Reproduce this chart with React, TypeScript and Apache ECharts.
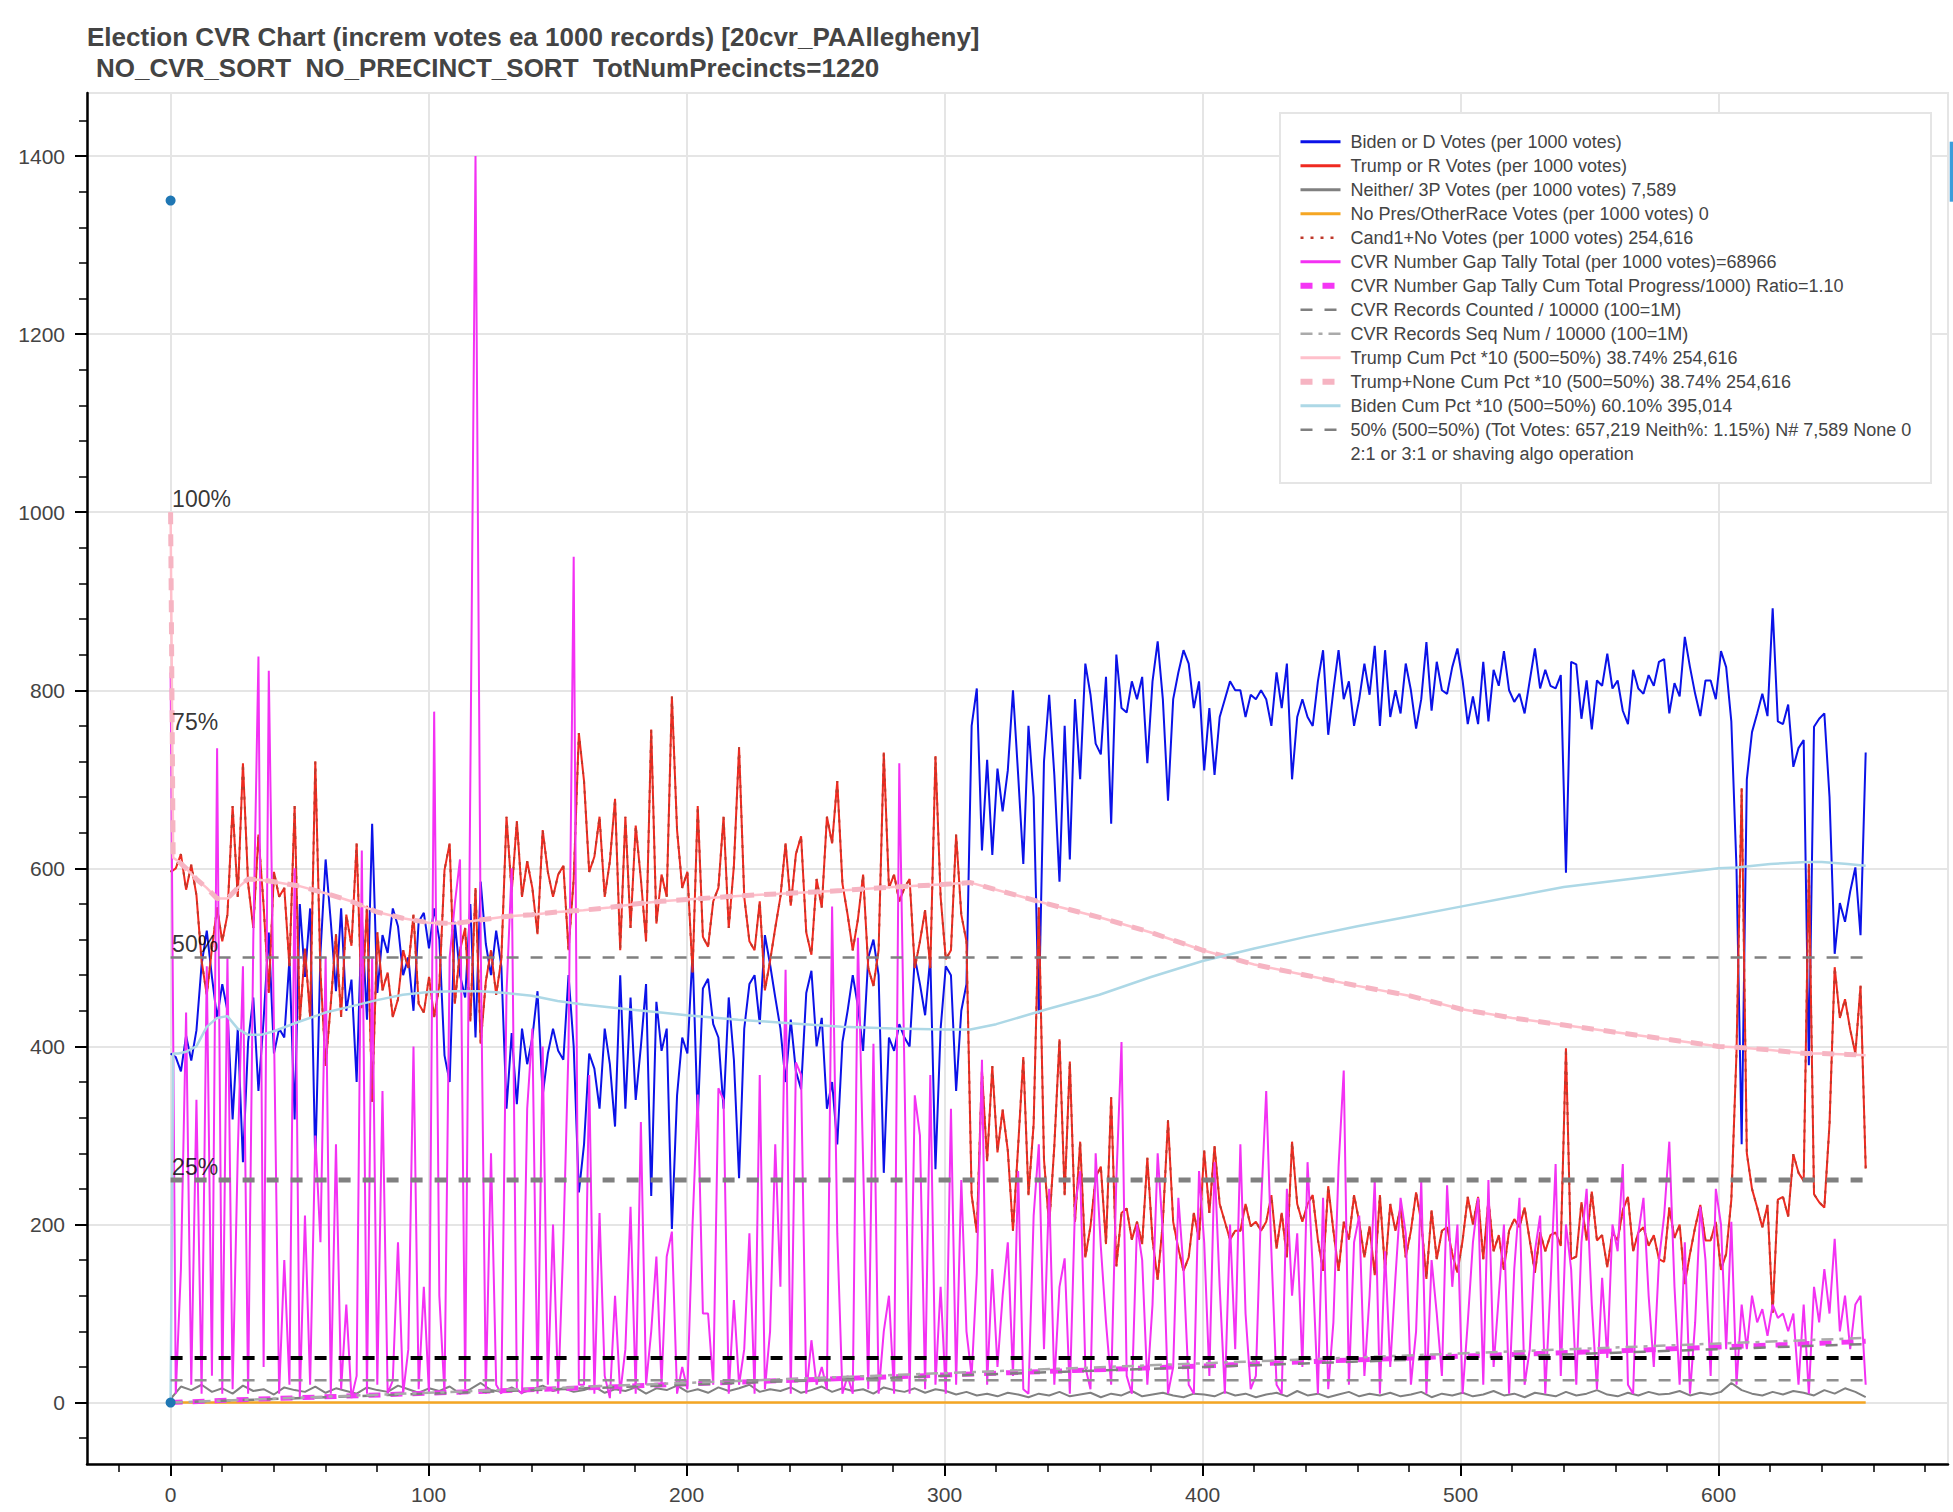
import React, { useEffect, useRef } from 'react';
import * as echarts from 'echarts';

const FONT = '"Liberation Sans", Arial, Helvetica, sans-serif';

const TITLE_1 = 'Election CVR Chart (increm votes ea 1000 records) [20cvr_PAAllegheny]';
const TITLE_2 = 'NO_CVR_SORT  NO_PRECINCT_SORT  TotNumPrecincts=1220';

const LEGEND_LABELS = [
  'Biden or D Votes (per 1000 votes)',
  'Trump or R Votes (per 1000 votes)',
  'Neither/ 3P Votes (per 1000 votes) 7,589',
  'No Pres/OtherRace Votes (per 1000 votes) 0',
  'Cand1+No Votes (per 1000 votes) 254,616',
  'CVR Number Gap Tally Total (per 1000 votes)=68966',
  'CVR Number Gap Tally Cum Total Progress/1000) Ratio=1.10',
  'CVR Records Counted / 10000 (100=1M)',
  'CVR Records Seq Num / 10000 (100=1M)',
  'Trump Cum Pct *10 (500=50%) 38.74% 254,616',
  'Trump+None Cum Pct *10 (500=50%) 38.74% 254,616',
  'Biden Cum Pct *10 (500=50%) 60.10% 395,014',
  '50% (500=50%) (Tot Votes: 657,219 Neith%: 1.15%) N# 7,589 None 0',
  '2:1 or 3:1 or shaving algo operation',
];
const LEGEND_ICON_WIDTHS = [3, 3, 3, 3, 2.5, 3, 6, 2.5, 2.5, 3, 6, 3, 2.5, 2];

const X_MIN = -32.4;
const X_MAX = 688.9;
const Y_MIN = -69;
const Y_MAX = 1470.8;
const X_TICKS = [0, 100, 200, 300, 400, 500, 600];
const Y_TICKS = [0, 200, 400, 600, 800, 1000, 1200, 1400];

const LAST_X = 657;

const BIDEN = [
  392, 388, 372, 412, 384, 418, 492, 530, 478, 432,
  470, 440, 318, 420, 270, 405, 455, 350, 430, 528,
  392, 420, 410, 498, 318, 560, 478, 555, 268, 505,
  610, 540, 462, 555, 440, 475, 360, 545, 430, 650,
  460, 525, 505, 555, 535, 480, 500, 440, 540, 550,
  510, 555, 520, 390, 360, 540, 480, 455, 560, 410,
  585, 515, 480, 530, 490, 330, 415, 335, 420, 380,
  410, 462, 345, 392, 420, 395, 385, 480, 400, 236,
  290, 392, 375, 330, 420, 380, 310, 480, 330, 455,
  340, 400, 470, 232, 450, 395, 420, 195, 345, 410,
  392, 505, 318, 465, 476, 425, 410, 330, 455, 385,
  252, 420, 470, 480, 425, 525, 492, 455, 420, 360,
  430, 372, 352, 460, 485, 400, 432, 330, 360, 290,
  405, 440, 480, 445, 395, 500, 520, 480, 258, 410,
  395, 425, 410, 400, 500, 470, 435, 500, 262, 420,
  490, 480, 350, 440, 470, 760, 802, 620, 722, 615,
  712, 664, 710, 800, 705, 605, 760, 680, 437, 720,
  795, 705, 585, 760, 610, 790, 700, 830, 795, 740,
  728, 815, 650, 840, 780, 775, 810, 790, 815, 718,
  810, 855, 790, 676, 790, 820, 845, 830, 780, 810,
  710, 780, 705, 770, 790, 810, 800, 800, 770, 795,
  790, 800, 790, 760, 820, 780, 830, 700, 770, 790,
  770, 760, 810, 845, 750, 800, 845, 790, 810, 760,
  790, 830, 795, 850, 760, 845, 770, 800, 774, 830,
  800, 757, 790, 854, 777, 832, 800, 796, 826, 847,
  811, 762, 793, 762, 832, 765, 823, 805, 844, 800,
  787, 796, 774, 811, 847, 802, 823, 805, 802, 817,
  595, 832, 829, 768, 811, 756, 811, 805, 841, 802,
  811, 777, 762, 823, 802, 796, 817, 805, 832, 835,
  774, 808, 793, 860, 826, 796, 771, 811, 811, 790,
  844, 826, 765, 600, 290, 700, 753, 774, 796, 771,
  892, 765, 762, 784, 714, 735, 744, 379, 759, 768,
  774, 680, 504, 561, 540, 574, 601, 525, 730,
];

const TRUMP = [
  596, 600, 616, 576, 604, 570, 496, 458, 510, 556,
  518, 548, 670, 568, 718, 583, 533, 638, 558, 460,
  596, 568, 578, 490, 670, 428, 510, 433, 720, 483,
  378, 448, 526, 433, 548, 513, 628, 443, 558, 338,
  528, 463, 483, 433, 453, 508, 488, 548, 448, 438,
  478, 433, 468, 598, 628, 448, 508, 533, 428, 578,
  403, 473, 508, 458, 498, 658, 573, 653, 568, 608,
  578, 526, 643, 596, 568, 593, 603, 508, 588, 752,
  698, 596, 613, 658, 568, 608, 678, 508, 658, 533,
  648, 588, 518, 756, 538, 593, 568, 793, 643, 578,
  596, 483, 670, 523, 512, 563, 578, 658, 533, 603,
  736, 568, 518, 508, 563, 463, 496, 533, 568, 628,
  558, 616, 636, 528, 503, 588, 556, 658, 628, 698,
  583, 548, 508, 543, 593, 488, 468, 508, 730, 578,
  593, 563, 578, 588, 488, 518, 553, 488, 726, 568,
  498, 508, 638, 548, 518, 233, 191, 373, 271, 378,
  281, 329, 283, 193, 288, 388, 233, 313, 556, 273,
  198, 288, 408, 233, 383, 203, 293, 163, 198, 253,
  265, 178, 343, 153, 213, 218, 183, 203, 178, 275,
  183, 138, 203, 317, 203, 173, 148, 163, 213, 183,
  283, 213, 288, 223, 203, 183, 193, 193, 223, 198,
  203, 193, 203, 233, 173, 213, 163, 293, 223, 203,
  223, 233, 183, 148, 243, 193, 148, 203, 183, 233,
  203, 163, 198, 143, 233, 148, 223, 193, 219, 163,
  193, 236, 203, 139, 216, 161, 193, 197, 167, 146,
  182, 231, 200, 231, 161, 228, 170, 188, 149, 193,
  206, 197, 219, 182, 146, 191, 170, 188, 191, 176,
  398, 161, 164, 225, 182, 237, 182, 188, 152, 191,
  182, 216, 231, 170, 191, 197, 176, 188, 161, 158,
  219, 185, 200, 133, 167, 197, 222, 182, 182, 203,
  149, 167, 228, 393, 690, 280, 240, 219, 197, 222,
  101, 228, 231, 209, 279, 258, 249, 605, 234, 225,
  219, 313, 489, 432, 453, 419, 392, 468, 263,
];

const GAP = [
  820, 10, 150, 438, 20, 340, 10, 490, 30, 735,
  10, 500, 15, 280, 490, 10, 520, 838, 40, 822,
  420, 10, 160, 20, 600, 5, 210, 20, 300, 180,
  500, 10, 290, 15, 110, 5, 30, 620, 10, 500,
  20, 350, 10, 25, 180, 10, 60, 400, 15, 130,
  10, 776, 120, 10, 500, 560, 610, 15, 700, 1400,
  520, 10, 280, 20, 10, 460, 600, 15, 10, 330,
  420, 10, 400, 20, 200, 10, 180, 400, 950, 20,
  20, 368, 10, 213, 30, 5, 120, 10, 60, 220,
  10, 315, 20, 80, 164, 20, 164, 192, 10, 40,
  15, 200, 346, 100, 100, 20, 353, 340, 10, 115,
  20, 60, 190, 10, 368, 15, 80, 290, 130, 486,
  10, 382, 368, 10, 70, 20, 40, 15, 557, 190,
  10, 30, 10, 522, 270, 15, 403, 10, 80, 120,
  10, 718, 370, 10, 345, 300, 15, 368, 20, 130,
  10, 330, 20, 250, 80, 30, 145, 385, 20, 150,
  40, 120, 180, 30, 260, 15, 10, 210, 290, 60,
  240, 20, 130, 162, 10, 220, 260, 40, 15, 280,
  175, 90, 20, 250, 405, 30, 10, 200, 160, 20,
  110, 280, 190, 10, 40, 230, 150, 20, 10, 260,
  180, 30, 270, 130, 10, 200, 60, 290, 100, 15,
  30, 220, 350, 170, 20, 10, 240, 120, 190, 40,
  270, 150, 10, 230, 15, 90, 265, 373, 20, 180,
  210, 30, 120, 250, 10, 170, 40, 140, 230, 190,
  20, 80, 250, 10, 160, 100, 30, 244, 130, 200,
  10, 90, 180, 230, 20, 250, 40, 120, 200, 10,
  150, 230, 20, 60, 170, 210, 10, 130, 268, 30,
  200, 150, 20, 180, 240, 110, 15, 140, 50, 200,
  170, 268, 20, 10, 190, 230, 120, 40, 160, 210,
  293, 130, 20, 180, 10, 90, 220, 160, 30, 240,
  200, 60, 203, 20, 110, 60, 120, 90, 105, 75,
  110, 95, 100, 80, 100, 20, 110, 10, 130, 90,
  150, 100, 184, 80, 120, 60, 110, 120, 20,
];

const NEITHER = [
  4, 18, 14, 20, 12, 16, 10, 19, 13, 15, 9, 17, 14, 12, 18, 11, 16, 13, 10, 17,
  14, 12, 19, 15, 11, 16, 13, 18, 10, 15, 22, 14, 12, 17, 11, 15, 19, 13, 16, 12,
  14, 18, 11, 15, 13, 17, 10, 16, 14, 19, 12, 15, 11, 17, 13, 16, 20, 12, 15, 13,
  17, 11, 14, 18, 12, 16, 13, 15, 10, 17, 14, 12, 16, 11, 15, 13, 9, 12, 8, 10,
  7, 11, 9, 6, 10, 8, 12, 7, 9, 11, 6, 10, 8, 13, 7, 9, 11, 8, 6, 10,
  9, 7, 12, 8, 10, 6, 9, 11, 7, 13, 8, 10, 6, 9, 12, 7, 10, 8, 11, 7,
  9, 12, 6, 10, 8, 11, 7, 9, 13, 8, 10, 6, 11, 9, 7, 12, 8, 10, 14, 9,
  7, 11, 8, 12, 9, 10, 13, 8, 11, 9, 12, 22, 14, 10, 8, 12, 9, 13, 11, 8,
  14, 10, 16, 12, 6,
];

const NOPRES_X = [0, 657];
const NOPRES = [0, 0];

const GAPCUM_X = [0, 25, 50, 75, 100, 125, 150, 175, 200, 225, 250, 275, 300, 325, 350, 375, 400, 425, 450, 475, 500, 525, 550, 575, 600, 625, 650, 657];
const GAPCUM = [0, 3, 5.5, 8, 10.5, 13, 15.5, 18, 21, 23.5, 26, 28.5, 31, 33.5, 36, 38.5, 41, 44, 47, 49.5, 52, 54.5, 57, 59.5, 62.5, 65, 68, 69];

const COUNT_X = [0, 100, 200, 300, 400, 500, 600, 657];
const COUNTED = [0, 10, 20, 30, 40, 50, 60, 65.7];
const SEQNUM = [0, 11, 22.1, 33.1, 44.1, 55.2, 66.3, 72.6];

const CUM_X = [0, 1, 3, 6, 10, 14, 18, 22, 26, 30, 35, 40, 50, 60, 70, 80, 90, 100, 110, 120, 130, 140, 150, 160, 170, 180, 190, 200, 220, 240, 260, 280, 300, 310, 320, 340, 360, 380, 400, 420, 440, 460, 480, 500, 520, 540, 560, 580, 600, 607, 620, 634, 640, 650, 657];
const TRUMP_CUM = [1000, 612, 608, 600, 588, 578, 566, 566, 578, 588, 587, 585, 580, 572, 563, 551, 544, 539, 538, 542, 546, 548, 551, 553, 556, 560, 563, 565, 569, 572, 575, 579, 582, 584, 576, 560, 545, 528, 508, 492, 480, 468, 457, 442, 432, 424, 416, 408, 400, 399, 396, 392, 392, 391, 390];
const BIDEN_CUM = [0, 392, 392, 394, 400, 422, 432, 434, 420, 413, 413, 417, 428, 438, 445, 452, 458, 461, 462, 462, 460, 457, 451, 447, 444, 441, 438, 435, 430, 426, 422, 420, 419, 419, 425, 442, 458, 478, 496, 510, 523, 535, 546, 557, 568, 579, 586, 593, 600, 601, 605, 607, 607, 605, 603];

const REF_X = [0, 657];
const FIFTY_PCT_LEVEL = 500;
const BAND_LEVELS = [250, 50, 25];

const PCT_LEVELS = [1000, 750, 500, 250];
const PCT_LABELS = ['100%', '75%', '50%', '25%'];

const DOT_X = [0, 0];
const DOT_Y = [1350, 0];

const spread = (vals: number[]) => vals.map((v, i) => [(i * LAST_X) / (vals.length - 1), v]);
const pairs = (xs: number[], ys: number[]) => xs.map((x, i) => [x, ys[i]]);
const flat = (level: number) => REF_X.map((x) => [x, level]);

function line(name: string, data: number[][], color: string, width: number, type: any = 'solid', z = 2) {
  return {
    type: 'line',
    name,
    data,
    symbol: 'none',
    showSymbol: false,
    silent: true,
    z,
    lineStyle: { color, width, type, cap: 'butt' },
    itemStyle: { color },
    emphasis: { disabled: true },
  };
}

export default function App() {
  const ref = useRef<HTMLDivElement>(null);

  useEffect(() => {
    if (!ref.current) return;
    const chart = echarts.init(ref.current, undefined, { renderer: 'svg' });

    const series: any[] = [
      line(LEGEND_LABELS[0], spread(BIDEN), '#0b12e8', 2),
      line(LEGEND_LABELS[1], spread(TRUMP), '#ef2a20', 2),
      line(LEGEND_LABELS[2], spread(NEITHER), '#808080', 2),
      line(LEGEND_LABELS[3], pairs(NOPRES_X, NOPRES), '#f5a623', 2.5),
      line(LEGEND_LABELS[4], spread(TRUMP), '#c0392b', 2, [3, 7]),
      line(LEGEND_LABELS[5], spread(GAP), '#f331f3', 2),
      line(LEGEND_LABELS[6], pairs(GAPCUM_X, GAPCUM), '#f436f4', 5, [12, 10]),
      line(LEGEND_LABELS[7], pairs(COUNT_X, COUNTED), '#808080', 2.5, [12, 12]),
      line(LEGEND_LABELS[8], pairs(COUNT_X, SEQNUM), '#aaaaaa', 2.5, [12, 6, 4, 6]),
      line(LEGEND_LABELS[9], pairs(CUM_X, TRUMP_CUM), '#ffc0cb', 2.5),
      line(LEGEND_LABELS[10], pairs(CUM_X, TRUMP_CUM), '#f6b4c2', 5, [12, 10]),
      line(LEGEND_LABELS[11], pairs(CUM_X, BIDEN_CUM), '#add8e6', 2.5),
      line(LEGEND_LABELS[12], flat(FIFTY_PCT_LEVEL), '#808080', 2.5, [12, 12]),
      line(LEGEND_LABELS[13], [], 'rgba(0,0,0,0)', 2),
      line('band250', flat(BAND_LEVELS[0]), '#808080', 5, [12, 12]),
      line('band50', flat(BAND_LEVELS[1]), '#000000', 4, [12, 12]),
      line('band25', flat(BAND_LEVELS[2]), '#909090', 2.5, [12, 12]),
      {
        type: 'scatter',
        name: 'pctLabels',
        silent: true,
        symbolSize: 1,
        itemStyle: { color: 'rgba(0,0,0,0)' },
        data: PCT_LEVELS.map((y, i) => ({ value: [0, y], label: { formatter: PCT_LABELS[i] } })),
        label: {
          show: true,
          position: [2, -1],
          align: 'left',
          verticalAlign: 'bottom',
          fontSize: 23,
          color: '#000',
          fontFamily: FONT,
          lineHeight: 23,
        },
        z: 6,
      },
      {
        type: 'scatter',
        name: 'dots',
        silent: true,
        symbolSize: 10,
        itemStyle: { color: '#1f77b4', opacity: 1 },
        data: pairs(DOT_X, DOT_Y),
        z: 7,
      },
    ];

    const titleStyle = { fontSize: 26, fontWeight: 'bold', color: '#444444', fontFamily: FONT, lineHeight: 26 };

    chart.setOption({
      animation: false,
      backgroundColor: '#ffffff',
      title: [
        { text: TITLE_1, left: 87, top: 23.5, padding: 0, textStyle: titleStyle },
        { text: TITLE_2, left: 96, top: 55, padding: 0, textStyle: titleStyle },
      ],
      grid: {
        left: 87,
        right: 5,
        top: 93,
        bottom: 48,
        show: true,
        borderColor: '#e5e5e5',
        borderWidth: 2,
        backgroundColor: 'rgba(0,0,0,0)',
        containLabel: false,
        outerBoundsMode: 'none',
      },
      legend: {
        data: LEGEND_LABELS.map((name, i) => ({ name, lineStyle: { width: LEGEND_ICON_WIDTHS[i] } })),
        orient: 'vertical',
        left: 1297.5,
        top: 132.7,
        padding: 0,
        itemWidth: 40,
        itemHeight: 14,
        itemGap: 6,
        selectedMode: false,
        z: 5,
        itemStyle: { opacity: 0 },
        textStyle: { fontSize: 18, color: '#444444', fontFamily: FONT, lineHeight: 18, padding: [0, 0, 0, 5] },
      },
      graphic: [
        {
          type: 'rect',
          z: 3,
          silent: true,
          shape: { x: 1280, y: 113, width: 651, height: 370 },
          style: { fill: '#ffffff', stroke: '#e5e5e5', lineWidth: 2 },
        },
        {
          type: 'rect',
          z: 3,
          silent: true,
          shape: { x: 1949.7, y: 141.7, width: 3.3, height: 60 },
          style: { fill: '#3b9ddb' },
        },
      ],
      xAxis: {
        type: 'value',
        min: X_MIN,
        max: X_MAX,
        splitNumber: 7,
        axisLine: { show: true, onZero: false, lineStyle: { color: '#000', width: 2.5 } },
        axisTick: { show: true, length: 12, customValues: X_TICKS, lineStyle: { color: '#000', width: 2 } },
        minorTick: { show: true, splitNumber: 5, length: 8, lineStyle: { color: '#000', width: 1.5 } },
        axisLabel: {
          customValues: X_TICKS,
          formatter: (v: number) => String(v),
          fontSize: 21,
          color: '#444444',
          margin: 20,
          fontFamily: FONT,
          lineHeight: 21,
        },
        splitLine: { show: true, lineStyle: { color: '#e5e5e5', width: 2 } },
        minorSplitLine: { show: false },
      },
      yAxis: {
        type: 'value',
        min: Y_MIN,
        max: Y_MAX,
        splitNumber: 8,
        axisLine: { show: true, onZero: false, lineStyle: { color: '#000', width: 2.5 } },
        axisTick: { show: true, length: 12, customValues: Y_TICKS, lineStyle: { color: '#000', width: 2 } },
        minorTick: { show: true, splitNumber: 5, length: 8, lineStyle: { color: '#000', width: 1.5 } },
        axisLabel: {
          customValues: Y_TICKS,
          formatter: (v: number) => String(v),
          fontSize: 21,
          color: '#444444',
          margin: 22,
          fontFamily: FONT,
        },
        splitLine: { show: true, lineStyle: { color: '#e5e5e5', width: 2 } },
        minorSplitLine: { show: false },
      },
      series,
    });

    return () => chart.dispose();
  }, []);

  return (
    <div
      ref={ref}
      style={{ position: 'fixed', left: 0, top: 0, width: 1953, height: 1512, background: '#fff' }}
    />
  );
}
